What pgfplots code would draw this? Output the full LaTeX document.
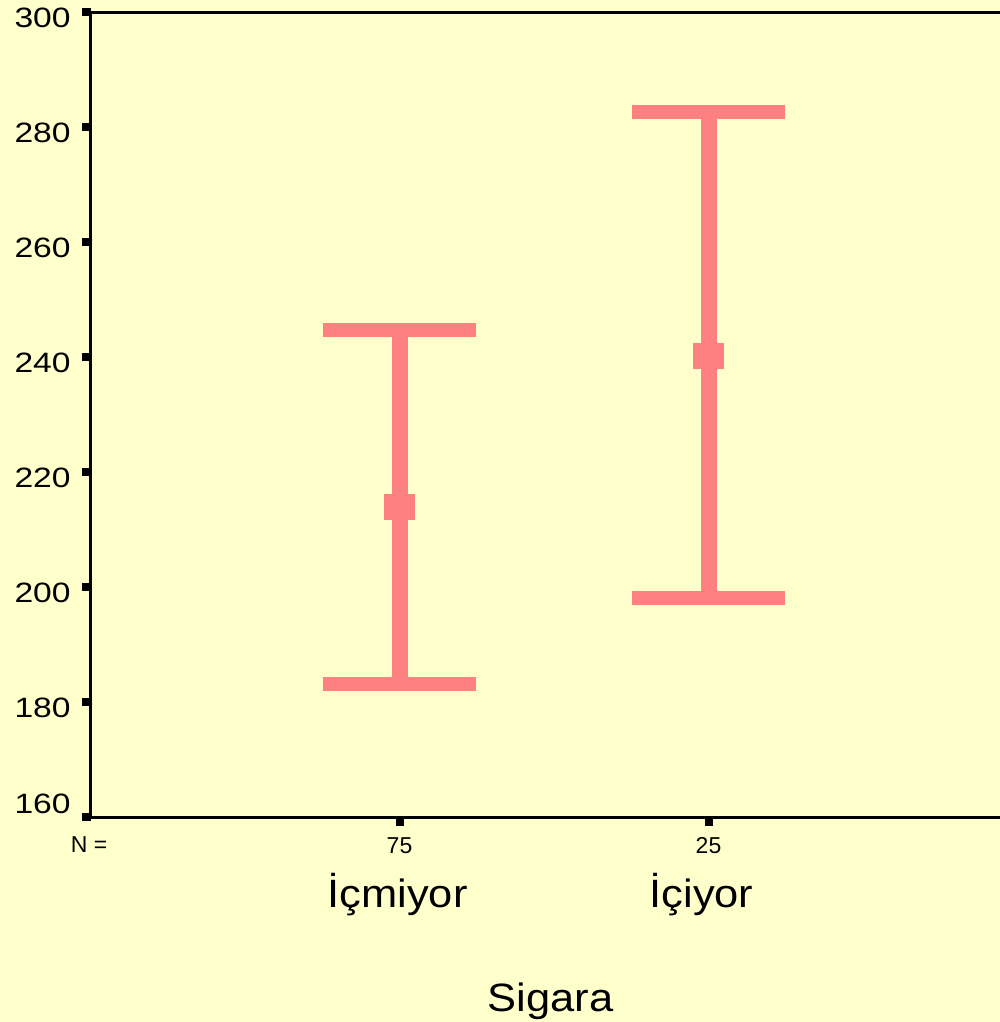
\documentclass[border=0pt]{standalone}
\usepackage{fontspec}
\setmainfont{Liberation Sans}
\newfontfamily\tickfont[FakeStretch=1.2]{Liberation Sans}
\newfontfamily\bigfont[FakeStretch=1.1]{Liberation Sans}
\usepackage{pgfplots}
\usepackage{pgfplotstable}
\pgfplotsset{compat=1.18}
\definecolor{bg}{HTML}{FFFFCC}
\definecolor{pk}{HTML}{FF8080}
\pgfplotstableread{
x mean lo hi
1 214.0 183.3 244.7
2 240.3 198.2 282.7
}\ci
\begin{document}
\begin{tikzpicture}
\path[use as bounding box] (0,0) rectangle (500pt,511pt);
\fill[bg] (0,0) rectangle (500pt,511pt);
\clip (0,0) rectangle (500pt,511pt);
\begin{axis}[
  at={(45.25pt,102.25pt)}, anchor=south west,
  scale only axis, width=463.5pt, height=402.5pt,
  xmin=0, xmax=3, ymin=160, ymax=300,
  xtick={1,2}, xticklabels={,},
  ytick={180,200,...,300},
  extra y ticks={160},
  extra y tick style={yticklabel style={yshift=9.25pt}, ytick style={line width=4pt, black}},
  xtick pos=left, ytick pos=left,
  tick align=outside,
  major tick length=4pt,
  axis line style={line width=1.5pt},
  xtick style={line width=4pt, black},
  ytick style={line width=4pt, black},
  axis background/.style={fill=bg},
  yticklabel style={font=\fontsize{14}{16}\tickfont, anchor=east, inner sep=0pt, xshift=-5.75pt, yshift=-2.5pt},
  /pgf/number format/assume math mode=true,
  clip=false,
]
% whiskers
\addplot[pk, line width=8pt, line cap=butt] coordinates {(1,183.3) (1,244.7)};
\addplot[pk, line width=8pt, line cap=butt] coordinates {(2,198.2) (2,282.7)};
% caps
\addplot[pk, line width=7pt, line cap=butt] coordinates {(0.752,244.7) (1.248,244.7)};
\addplot[pk, line width=7pt, line cap=butt] coordinates {(0.752,183.3) (1.248,183.3)};
\addplot[pk, line width=7pt, line cap=butt] coordinates {(1.752,282.7) (2.248,282.7)};
\addplot[pk, line width=7pt, line cap=butt] coordinates {(1.752,198.2) (2.248,198.2)};
% means
\addplot[pk, only marks, mark=square*, mark size=6.25pt, mark options={xscale=1.2, fill=pk, draw=pk, line width=0pt}] table[x=x, y=mean] {\ci};
% labels
\node[anchor=base, font=\fontsize{11.5}{13}\selectfont] at (axis cs:0,160) [xshift=-0.75pt, yshift=-17.5pt] {N =};
\node[anchor=base, font=\fontsize{11.5}{13}\selectfont] at (axis cs:1,160) [yshift=-17.75pt] {75};
\node[anchor=base, font=\fontsize{11.5}{13}\selectfont] at (axis cs:2,160) [yshift=-17.75pt] {25};
\node[anchor=base, font=\fontsize{19.75}{22}\bigfont] at (axis cs:1,160) [xshift=-1pt, yshift=-44.75pt] {İçmiyor};
\node[anchor=base, font=\fontsize{19.75}{22}\bigfont] at (axis cs:2,160) [xshift=-3.5pt, yshift=-44.75pt] {İçiyor};
\node[anchor=base, font=\fontsize{19.75}{22}\bigfont] at (axis cs:1.5,160) [xshift=-1.75pt, yshift=-96.75pt] {Sigara};
\end{axis}
\end{tikzpicture}
\end{document}
